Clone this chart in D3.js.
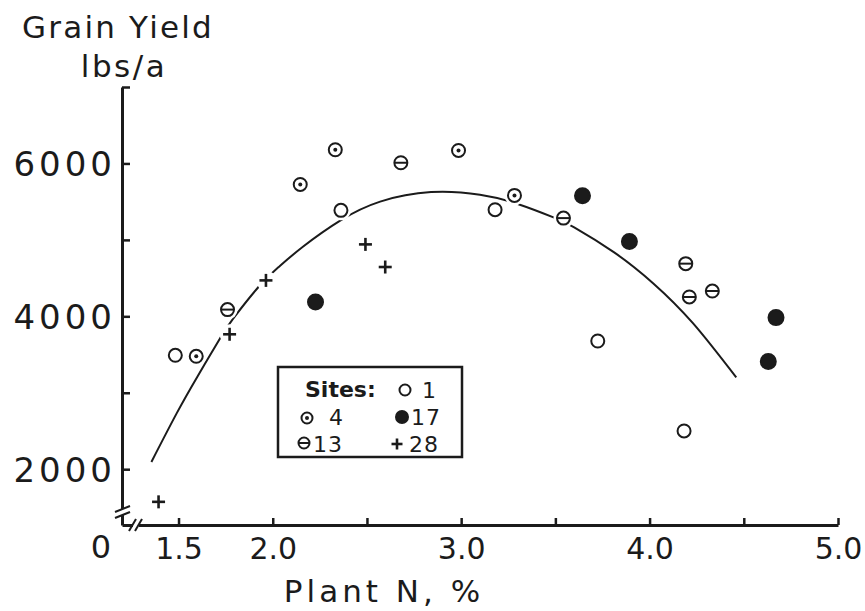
<!DOCTYPE html>
<html>
<head>
<meta charset="utf-8">
<script src="https://cdn.jsdelivr.net/npm/d3@7"></script>
<style>
  html, body { margin: 0; padding: 0; background: #fff; }
  svg { display: block; font-family: 'DejaVu Sans', sans-serif; }
</style>
</head>
<body>
<div id="chart"></div>
<script>
// plant N (%) and grain yield (lbs/a) per site
const site1 = [[1.483, 3490], [2.362, 5386], [3.18, 5395], [3.725, 3677], [4.183, 2500]];
const site4 = [[1.594, 3477], [2.146, 5725], [2.332, 6179], [2.986, 6170], [3.283, 5582]];
const site13 = [[1.76, 4088], [2.68, 6009], [3.543, 5285], [4.192, 4689], [4.211, 4253], [4.333, 4331]];
const site17 = [[2.227, 4187], [3.644, 5578], [3.893, 4980], [4.63, 3408], [4.671, 3983]];
const site28 = [[1.394, 1573], [1.771, 3765], [1.964, 4470], [2.492, 4941], [2.597, 4645]];

// fitted response curve
const fitCurve = [
  [1.356, 2095], [1.49, 2730], [1.6, 3210], [1.72, 3710], [1.79, 3970],
  [1.93, 4400], [2.03, 4643], [2.16, 4910], [2.36, 5255], [2.57, 5500],
  [2.84, 5625], [3.1, 5590], [3.3, 5470], [3.49, 5295], [3.6, 5165],
  [3.81, 4840], [4.02, 4430], [4.23, 3910], [4.46, 3200]
];

const yTicks = [2000, 3000, 4000, 5000, 6000, 7000];
const yLabels = [2000, 4000, 6000];
const xTicks = [1.5, 2.0, 2.5, 3.0, 3.5, 4.0, 4.5, 5.0];
const xLabels = [1.5, 2.0, 3.0, 4.0, 5.0];

const sites = [
  { name: '1', kind: 'open', data: site1 },
  { name: '4', kind: 'dot', data: site4 },
  { name: '13', kind: 'theta', data: site13 },
  { name: '17', kind: 'filled', data: site17 },
  { name: '28', kind: 'plus', data: site28 }
];

const width = 865;
const height = 611;
const ink = '#1b1b1b';

const svg = d3.select('#chart')
  .append('svg')
  .attr('width', width)
  .attr('height', height);

svg.append('rect').attr('width', width).attr('height', height).attr('fill', '#fff');

const x = d3.scaleLinear().domain([1.2, 5.0]).range([122, 838]);
const y = d3.scaleLinear().domain([1270, 7000]).range([525, 87]);

// axes
const yAxis = svg.append('g')
  .attr('transform', `translate(${x(1.2)},0)`)
  .call(d3.axisLeft(y)
    .tickValues(yTicks)
    .tickSizeInner(-8)
    .tickSizeOuter(0)
    .tickPadding(6)
    .tickFormat(d => yLabels.includes(d) ? d : ''));

const xAxis = svg.append('g')
  .attr('transform', `translate(0,${y(1270)})`)
  .call(d3.axisBottom(x)
    .tickValues(xTicks)
    .tickSizeInner(-7)
    .tickSizeOuter(0)
    .tickPadding(13)
    .tickFormat(d => xLabels.includes(d) ? d3.format('.1f')(d) : ''));

[yAxis, xAxis].forEach(g => {
  g.select('.domain').attr('stroke', ink).attr('stroke-width', 3);
  g.selectAll('.tick line').attr('stroke', ink).attr('stroke-width', 2.5);
  g.selectAll('.tick text')
    .attr('fill', ink)
    .attr('font-family', 'DejaVu Sans, sans-serif');
});
yAxis.selectAll('.tick text').attr('font-size', 34).attr('letter-spacing', 4).attr('dy', '0.36em');
xAxis.selectAll('.tick text').attr('font-size', 30);

// axis breaks
const breaks = svg.append('g').attr('stroke', ink).attr('stroke-width', 2);
breaks.append('rect')
  .attr('x', 116).attr('y', 509).attr('width', 12).attr('height', 6)
  .attr('fill', '#fff').attr('stroke', 'none');
breaks.append('line').attr('x1', 115).attr('y1', 512).attr('x2', 130).attr('y2', 506);
breaks.append('line').attr('x1', 115).attr('y1', 518).attr('x2', 130).attr('y2', 512);
breaks.append('rect')
  .attr('x', 133).attr('y', 520).attr('width', 6).attr('height', 10)
  .attr('fill', '#fff').attr('stroke', 'none');
breaks.append('line').attr('x1', 129).attr('y1', 531).attr('x2', 136).attr('y2', 519);
breaks.append('line').attr('x1', 135).attr('y1', 531).attr('x2', 142).attr('y2', 519);

svg.append('text')
  .attr('x', 101).attr('y', 558)
  .attr('text-anchor', 'middle')
  .attr('font-size', 32)
  .attr('fill', ink)
  .text('0');

// titles
svg.append('text')
  .attr('x', 118).attr('y', 38)
  .attr('text-anchor', 'middle')
  .attr('font-size', 31)
  .attr('letter-spacing', 2.2)
  .attr('fill', ink)
  .text('Grain Yield');

svg.append('text')
  .attr('x', 124).attr('y', 77)
  .attr('text-anchor', 'middle')
  .attr('font-size', 31)
  .attr('letter-spacing', 2.5)
  .attr('fill', ink)
  .text('lbs/a');

svg.append('text')
  .attr('x', 384).attr('y', 602)
  .attr('text-anchor', 'middle')
  .attr('font-size', 31)
  .attr('letter-spacing', 4)
  .attr('fill', ink)
  .text('Plant N, %');

// fitted curve
svg.append('path')
  .datum(fitCurve)
  .attr('fill', 'none')
  .attr('stroke', ink)
  .attr('stroke-width', 2)
  .attr('d', d3.line().x(d => x(d[0])).y(d => y(d[1])).curve(d3.curveNatural));

function drawMarker(g, kind, r) {
  if (kind === 'plus') {
    g.append('line').attr('x1', -r).attr('x2', r).attr('stroke', ink).attr('stroke-width', 2.6);
    g.append('line').attr('y1', -r).attr('y2', r).attr('stroke', ink).attr('stroke-width', 2.6);
    return;
  }
  g.append('circle')
    .attr('r', r)
    .attr('fill', kind === 'filled' ? ink : '#fff')
    .attr('stroke', ink)
    .attr('stroke-width', 2);
  if (kind === 'dot') {
    g.append('circle').attr('r', 2).attr('fill', ink);
  }
  if (kind === 'theta') {
    g.append('line').attr('x1', -r).attr('x2', r).attr('stroke', ink).attr('stroke-width', 2);
  }
}

// white halos so the curve breaks around the symbols
const points = sites.flatMap(s => s.data.map(d => ({ kind: s.kind, d })));
svg.append('g')
  .selectAll('circle')
  .data(points)
  .join('circle')
  .attr('cx', p => x(p.d[0]))
  .attr('cy', p => y(p.d[1]))
  .attr('r', 10)
  .attr('fill', '#fff');

svg.append('g')
  .selectAll('g')
  .data(points)
  .join('g')
  .attr('transform', p => `translate(${x(p.d[0])},${y(p.d[1])})`)
  .each(function (p) {
    drawMarker(d3.select(this), p.kind, p.kind === 'filled' ? 7.5 : 6.5);
  });

// legend
const legend = svg.append('g');
legend.append('rect')
  .attr('x', 278).attr('y', 367).attr('width', 184).attr('height', 90)
  .attr('fill', '#fff')
  .attr('stroke', ink)
  .attr('stroke-width', 2.5);

legend.append('text')
  .attr('x', 305).attr('y', 397)
  .attr('font-size', 22)
  .attr('font-weight', 'bold')
  .attr('fill', ink)
  .text('Sites:');

const legendItems = [
  { kind: 'open', label: '1', mx: 405, my: 390, tx: 422, ty: 398 },
  { kind: 'dot', label: '4', mx: 307, my: 418, tx: 329, ty: 425 },
  { kind: 'filled', label: '17', mx: 402, my: 417, tx: 411, ty: 425 },
  { kind: 'theta', label: '13', mx: 304, my: 443, tx: 313, ty: 452 },
  { kind: 'plus', label: '28', mx: 397, my: 444, tx: 409, ty: 452 }
];

legendItems.forEach(it => {
  const g = legend.append('g').attr('transform', `translate(${it.mx},${it.my})`);
  drawMarker(g, it.kind, it.kind === 'filled' ? 6 : 5.5);
  legend.append('text')
    .attr('x', it.tx).attr('y', it.ty)
    .attr('font-size', 22)
    .attr('letter-spacing', 1)
    .attr('fill', ink)
    .text(it.label);
});
</script>
</body>
</html>
